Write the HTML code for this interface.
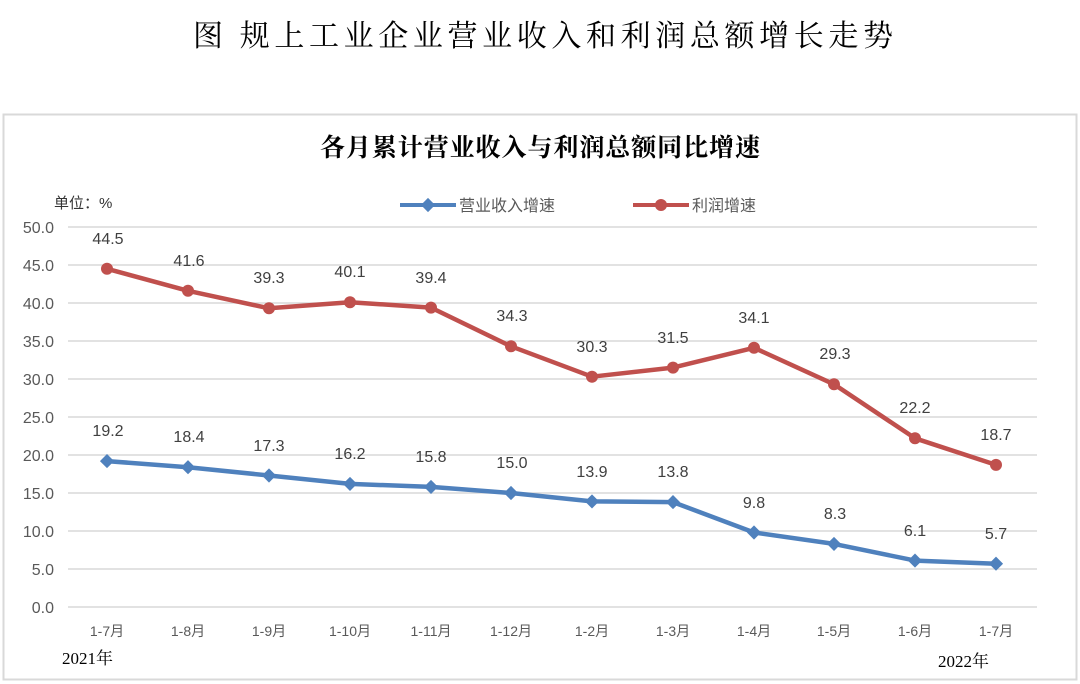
<!DOCTYPE html>
<html><head><meta charset="utf-8"><style>
html,body{margin:0;padding:0;background:#fff;}
svg{display:block;}
</style></head><body>
<svg width="1080" height="684" xmlns="http://www.w3.org/2000/svg">
<rect x="0" y="0" width="1080" height="684" fill="#fff"/>
<text x="193" y="46" font-family="'Liberation Serif','Noto Serif CJK SC',serif" font-size="30" textLength="700" lengthAdjust="spacing" fill="#000">图 规上工业企业营业收入和利润总额增长走势</text>
<rect x="3.5" y="114.5" width="1073" height="565" fill="#fff" stroke="#d9d9d9" stroke-width="2"/>
<text x="540" y="156" text-anchor="middle" font-family="'Liberation Serif','Noto Serif CJK SC',serif" font-weight="bold" font-size="25" textLength="440" lengthAdjust="spacing" fill="#000">各月累计营业收入与利润总额同比增速</text>
<text x="54" y="208" font-family="'Liberation Sans','Noto Sans CJK SC',sans-serif" font-size="15" fill="#333">单位：%</text>
<g stroke="#d9d9d9" stroke-width="1.5">
<line x1="68" x2="1037" y1="227" y2="227"/><line x1="68" x2="1037" y1="265" y2="265"/>
<line x1="68" x2="1037" y1="303" y2="303"/><line x1="68" x2="1037" y1="341" y2="341"/>
<line x1="68" x2="1037" y1="379" y2="379"/><line x1="68" x2="1037" y1="417" y2="417"/>
<line x1="68" x2="1037" y1="455" y2="455"/><line x1="68" x2="1037" y1="493" y2="493"/>
<line x1="68" x2="1037" y1="531" y2="531"/><line x1="68" x2="1037" y1="569" y2="569"/>
<line x1="68" x2="1037" y1="607" y2="607"/>
</g>
<g font-family="'Liberation Sans',sans-serif" font-size="16" fill="#595959" text-anchor="end">
<text x="54" y="233">50.0</text><text x="54" y="271">45.0</text><text x="54" y="309">40.0</text>
<text x="54" y="347">35.0</text><text x="54" y="385">30.0</text><text x="54" y="423">25.0</text>
<text x="54" y="461">20.0</text><text x="54" y="499">15.0</text><text x="54" y="537">10.0</text>
<text x="54" y="575">5.0</text><text x="54" y="613">0.0</text>
</g>
<g font-family="'Liberation Sans','Noto Sans CJK SC',sans-serif" font-size="14" fill="#595959" text-anchor="middle">
<text x="107" y="636">1-7月</text><text x="188" y="636">1-8月</text><text x="269" y="636">1-9月</text>
<text x="350" y="636">1-10月</text><text x="431" y="636">1-11月</text><text x="511" y="636">1-12月</text>
<text x="592" y="636">1-2月</text><text x="673" y="636">1-3月</text><text x="754" y="636">1-4月</text>
<text x="834" y="636">1-5月</text><text x="915" y="636">1-6月</text><text x="996" y="636">1-7月</text>
</g>
<g font-family="'Liberation Serif','Noto Serif CJK SC',serif" font-size="17" fill="#000">
<text x="62" y="664">2021年</text><text x="938" y="667">2022年</text>
</g>
<!-- legend -->
<line x1="400" y1="205" x2="456" y2="205" stroke="#4f81bd" stroke-width="4"/>
<rect x="423" y="200" width="10" height="10" fill="#4f81bd" transform="rotate(45 428 205)"/>
<text x="459" y="211" font-family="'Liberation Sans','Noto Sans CJK SC',sans-serif" font-size="16" fill="#595959">营业收入增速</text>
<line x1="633" y1="205" x2="689" y2="205" stroke="#c0504d" stroke-width="4"/>
<circle cx="661" cy="205" r="6" fill="#c0504d"/>
<text x="692" y="211" font-family="'Liberation Sans','Noto Sans CJK SC',sans-serif" font-size="16" fill="#595959">利润增速</text>
<!-- red series -->
<polyline fill="none" stroke="#c0504d" stroke-width="4.5" stroke-linejoin="round" points="107,268.8 188,290.8 269,308.3 350,302.2 431,307.6 511,346.3 592,376.7 673,367.6 754,347.8 834,384.3 915,438.3 996,464.9"/>
<g fill="#c0504d">
<circle cx="107" cy="268.8" r="6"/><circle cx="188" cy="290.8" r="6"/><circle cx="269" cy="308.3" r="6"/>
<circle cx="350" cy="302.2" r="6"/><circle cx="431" cy="307.6" r="6"/><circle cx="511" cy="346.3" r="6"/>
<circle cx="592" cy="376.7" r="6"/><circle cx="673" cy="367.6" r="6"/><circle cx="754" cy="347.8" r="6"/>
<circle cx="834" cy="384.3" r="6"/><circle cx="915" cy="438.3" r="6"/><circle cx="996" cy="464.9" r="6"/>
</g>
<!-- blue series -->
<polyline fill="none" stroke="#4f81bd" stroke-width="4.5" stroke-linejoin="round" points="107,461.1 188,467.2 269,475.5 350,483.9 431,486.9 511,493 592,501.4 673,502.1 754,532.5 834,543.9 915,560.6 996,563.7"/>
<g fill="#4f81bd">
<rect x="102" y="456.1" width="10" height="10" transform="rotate(45 107 461.1)"/>
<rect x="183" y="462.2" width="10" height="10" transform="rotate(45 188 467.2)"/>
<rect x="264" y="470.5" width="10" height="10" transform="rotate(45 269 475.5)"/>
<rect x="345" y="478.9" width="10" height="10" transform="rotate(45 350 483.9)"/>
<rect x="426" y="481.9" width="10" height="10" transform="rotate(45 431 486.9)"/>
<rect x="506" y="488" width="10" height="10" transform="rotate(45 511 493)"/>
<rect x="587" y="496.4" width="10" height="10" transform="rotate(45 592 501.4)"/>
<rect x="668" y="497.1" width="10" height="10" transform="rotate(45 673 502.1)"/>
<rect x="749" y="527.5" width="10" height="10" transform="rotate(45 754 532.5)"/>
<rect x="829" y="538.9" width="10" height="10" transform="rotate(45 834 543.9)"/>
<rect x="910" y="555.6" width="10" height="10" transform="rotate(45 915 560.6)"/>
<rect x="991" y="558.7" width="10" height="10" transform="rotate(45 996 563.7)"/>
</g>
<g font-family="'Liberation Sans',sans-serif" font-size="16" fill="#404040" text-anchor="middle">
<text x="108" y="244">44.5</text><text x="189" y="266">41.6</text><text x="269" y="283">39.3</text>
<text x="350" y="277">40.1</text><text x="431" y="283">39.4</text><text x="512" y="321">34.3</text>
<text x="592" y="352">30.3</text><text x="673" y="343">31.5</text><text x="754" y="323">34.1</text>
<text x="835" y="359">29.3</text><text x="915" y="413">22.2</text><text x="996" y="440">18.7</text>
<text x="108" y="436">19.2</text><text x="189" y="442">18.4</text><text x="269" y="451">17.3</text>
<text x="350" y="459">16.2</text><text x="431" y="462">15.8</text><text x="512" y="468">15.0</text>
<text x="592" y="477">13.9</text><text x="673" y="477">13.8</text><text x="754" y="508">9.8</text>
<text x="835" y="519">8.3</text><text x="915" y="536">6.1</text><text x="996" y="539">5.7</text>
</g>
</svg>
</body></html>
